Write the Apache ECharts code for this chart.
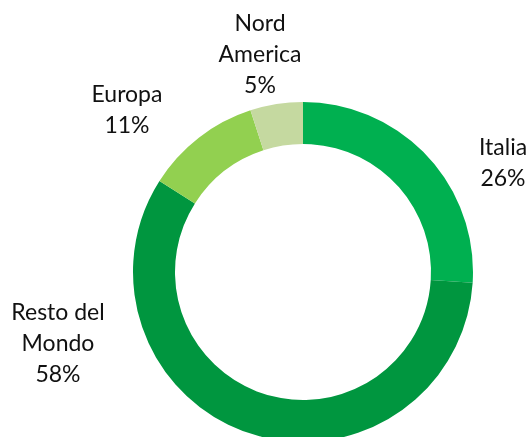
<!DOCTYPE html>
<html>
<head>
<meta charset="utf-8">
<script src="https://cdn.jsdelivr.net/npm/echarts@6/dist/echarts.min.js"></script>
<style>
  html, body { margin: 0; padding: 0; background: #fff; }
  #chart { width: 531px; height: 437px; }
</style>
</head>
<body>
<div id="chart"></div>
<script>
// dati
var categories = ["Italia", "Resto del\nMondo", "Europa", "Nord\nAmerica"];
var values = [26, 58, 11, 5];
var colors = ["#00b050", "#00963f", "#92d050", "#c5d9a0"];
// posizione etichette (centro del testo)
var labelPos = [[503, 163], [58, 344], [127, 110], [260, 55]];

var myChart = echarts.init(document.getElementById("chart"));
myChart.setOption({
  animation: false,
  series: [{
    type: "pie",
    center: [303, 272],
    radius: [128, 170],
    startAngle: 90,
    clockwise: true,
    data: categories.map(function (c, i) {
      return { name: c, value: values[i], itemStyle: { color: colors[i] } };
    }),
    label: {
      show: true,
      position: "outside",
      formatter: "{b}\n{d}%",
      fontFamily: "Lato",
      fontSize: 23,
      lineHeight: 31,
      color: "#111",
      align: "center",
      overflow: "none",
      edgeDistance: 0
    },
    labelLine: { show: false },
    labelLayout: function (params) {
      var p = labelPos[params.dataIndex];
      return {
        x: p[0],
        y: p[1] - params.labelRect.height / 2,
        align: "center",
        verticalAlign: "top"
      };
    },
    emphasis: { disabled: true }
  }]
});
</script>
</body>
</html>
